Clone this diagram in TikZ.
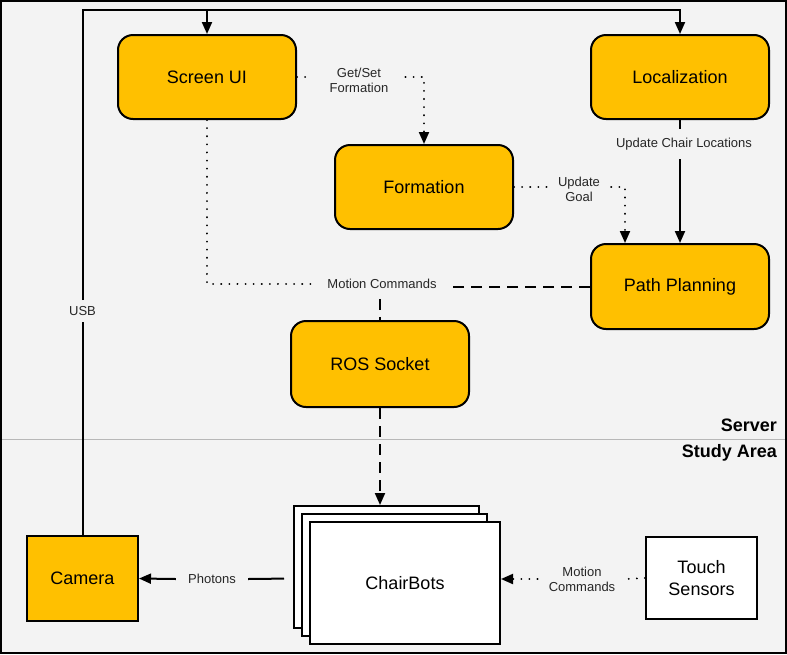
\documentclass[tikz,border=0pt]{standalone}
\usepackage{fontspec}
\setmainfont{Liberation Sans}
\usetikzlibrary{arrows.meta}
\definecolor{bg}{HTML}{F3F3F3}
\definecolor{amber}{HTML}{FFC000}
\definecolor{divider}{HTML}{B7B7B7}

\begin{document}
\begin{tikzpicture}[x=1pt,y=-1pt,
  module/.style={draw=black, line width=2pt, fill=amber, rounded corners=15pt,
    minimum width=178pt, minimum height=84pt, inner sep=0pt,
    font=\fontsize{18}{22}\selectfont, align=center},
  device/.style={draw=black, line width=2pt, inner sep=0pt,
    font=\fontsize{18}{22}\selectfont, align=center},
  lbl/.style={inner xsep=10pt, inner ysep=4pt, align=center,
    font=\fontsize{13}{15}\selectfont, text=black!85},
  conn/.style={line width=2pt, draw=black},
  dotline/.style={conn, line cap=round, dash pattern=on 0.1pt off 8pt},
  dashline/.style={conn, dash pattern=on 11pt off 7pt},
  tip/.style={-{Triangle[length=12pt,width=10pt]}},
  region/.style={font=\fontsize{18}{22}\selectfont\bfseries, anchor=east, inner sep=0pt}
]
% canvas and frame
\useasboundingbox (0,0) rectangle (787,654);
\fill[bg] (0,0) rectangle (787,654);
\draw[divider, line width=1pt] (0,439.5) -- (785,439.5);
\draw[black, line width=2pt] (1,1) rectangle (786,653);

\node[region] (server) at (777,425) {Server};
\node[region] (study) at (777,453) {Study Area};

% server modules
\node[module] (screen) at (207,77) {Screen UI};
\node[module] (loc) at (680,77) {Localization};
\node[module] (form) at (424,187) {Formation};
\node[module, minimum height=85pt] (pp) at (680,286.5) {Path Planning};
\node[module, minimum height=86pt] (ros) at (380,364) {ROS Socket};

% study area devices
\node[device, fill=amber, minimum width=111pt, minimum height=85pt] (cam) at (82.5,578.5) {Camera};
\node[device, fill=white, minimum width=111pt, minimum height=82pt] (touch) at (701.5,578) {Touch\\Sensors};
\node[device, fill=white, minimum width=185pt, minimum height=122pt] (chA) at (386.5,567) {};
\node[device, fill=white, minimum width=185pt, minimum height=122pt] (chB) at (394.5,575) {};
\node[device, fill=white, minimum width=190pt, minimum height=122pt] (chairs) at (405,583) {ChairBots};

% connector labels
\node[lbl, inner xsep=17pt, inner ysep=3pt] (gs) at (359,80) {Get/Set\\Formation};
\node[lbl, inner xsep=11pt] (ug) at (579,189) {Update\\Goal};
\node[lbl, inner ysep=9pt] (uc) at (684,144) {Update Chair Locations};
\node[lbl, inner xsep=16pt, inner ysep=10pt] (mc) at (382,284) {Motion Commands};
\node[lbl, inner ysep=6pt] (usb) at (82.5,311) {USB};
\node[lbl, inner xsep=12pt] (ph) at (212,579) {Photons};
\node[lbl, inner xsep=11pt] (mc2) at (582,579) {Motion\\Commands};

% USB bus from the camera to the server
\coordinate (bus) at (82.5,10);
\draw[conn] (cam.north) -- (usb.south);
\draw[conn, tip] (usb.north) -- (bus) -| (loc.north);
\draw[conn, tip] (bus -| screen.north) -- (screen.north);

% formation handling
\draw[dotline] (screen.east) -- (screen.east -| gs.west);
\draw[dotline, tip] (gs.east |- screen.east) -| (form.north);
\draw[dotline] (form.east) -- (form.east -| ug.west);
\draw[dotline, tip] (ug.east |- form.east) -| ([xshift=35pt]pp.north west);

% chair locations
\draw[conn] (loc.south) -- (loc.south |- uc.north);
\draw[conn, tip] (uc.south -| pp.north) -- (pp.north);

% motion commands to the robots
\draw[dotline] (screen.south) |- (mc.west);
\draw[dashline] (pp.west) -- (pp.west -| mc.east);
\draw[dashline] (mc.south -| ros.north) -- (ros.north);
\draw[dashline, tip] (ros.south) -- (ros.south |- chA.north);

% study area links
\draw[conn, shorten <=9pt] (chA.west |- cam.east) -- (ph.east);
\draw[conn, tip] (ph.west) -- (cam.east);
\draw[dotline] (touch.west) -- (mc2.east);
\draw[dotline, tip] (mc2.west) -- (mc2.west -| chairs.east);
\end{tikzpicture}
\end{document}
